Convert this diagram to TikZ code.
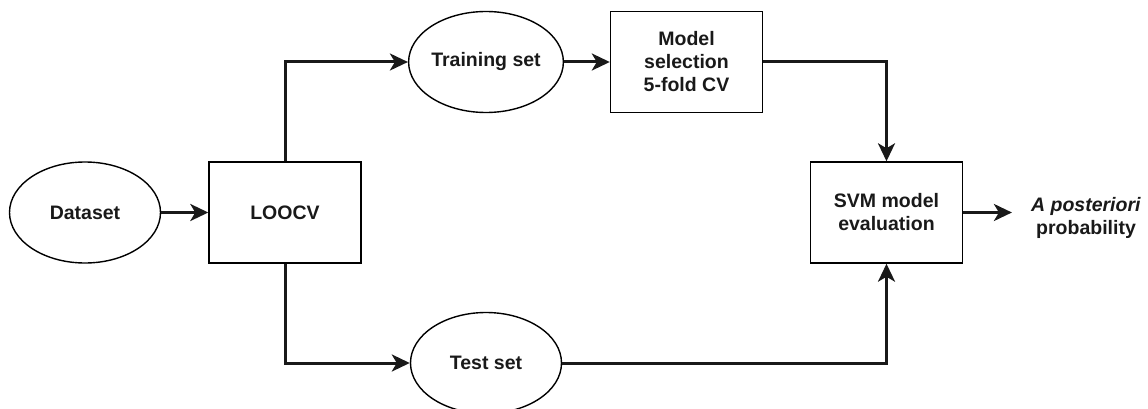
\documentclass[tikz,border=0pt]{standalone}
\usepackage{fontspec}
\setmainfont{Liberation Sans}
\usetikzlibrary{shapes.geometric,arrows.meta}
\begin{document}
\begin{tikzpicture}[x=1pt,y=-1pt,
  every node/.style={font=\fontsize{19.5}{23}\selectfont\bfseries, align=center, text=black!90},
  oval/.style={draw, ellipse, line width=1.4pt, minimum width=151pt, minimum height=101pt, inner sep=0pt},
  boxnode/.style={draw, rectangle, line width=1.4pt, minimum width=152pt, minimum height=101pt, inner sep=0pt},
  link/.style={line width=3pt, black!90, -{Stealth[length=18pt,width=17pt,inset=5pt]}}]
\useasboundingbox (0,0) rectangle (1148,409);
\node[oval] (data) at (85,212.5) {Dataset};
\node[boxnode] (loo) at (285,212.5) {LOOCV};
\node[oval] (train) at (486,62) {Training set};
\node[boxnode] (model) at (686.5,62) {Model\\selection\\5-fold CV};
\node[boxnode] (svm) at (886.5,212.5) {SVM model\\evaluation};
\node[oval] (test) at (486,363) {Test set};
\node[inner sep=0pt] (out) at (1086,218) {\textit{A posteriori}\\probability};
\draw[link] (data) -- (loo);
\draw[link] (loo.north) |- (train.west);
\draw[link] (loo.south) |- (test.west);
\draw[link] (train) -- (model);
\draw[link] (model.east) -| (svm.north);
\draw[link] (test.east) -| (svm.south);
\draw[link, shorten >=19pt] (svm.east) -- (svm.east -| out.west);
\end{tikzpicture}
\end{document}
